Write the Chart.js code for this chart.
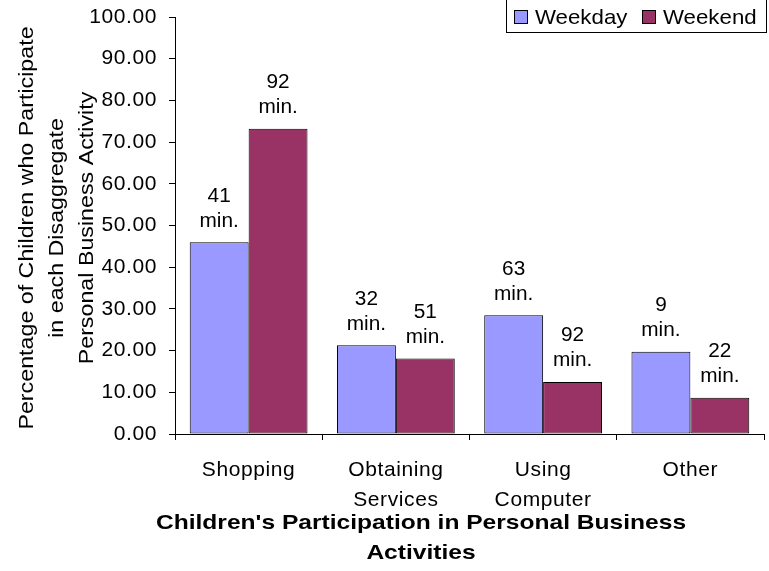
<!DOCTYPE html>
<html>
<head>
<meta charset="utf-8">
<script src="https://cdn.jsdelivr.net/npm/chart.js@4/dist/chart.umd.min.js"></script>
<style>
  html, body { margin: 0; padding: 0; background: #fff; }
  #wrap { width: 769px; height: 571px; position: relative; }
</style>
</head>
<body>
<div id="wrap"><canvas id="chart"></canvas></div>
<script>
const categories = ['Shopping', ['Obtaining', 'Services'], ['Using', 'Computer'], 'Other'];
const weekday = [46.0, 21.3, 28.5, 19.7];
const weekend = [73.2, 18.1, 12.5, 8.7];
const weekdayMinutes = [41, 32, 63, 9];
const weekendMinutes = [92, 51, 92, 22];
const yTitle = ['Percentage of Children who Participate', 'in each Disaggregate', 'Personal Business Activity'];
const xTitle = ["Children's Participation in Personal Business", 'Activities'];

const FONT = '"Liberation Sans", Arial, sans-serif';
const minutes = [weekdayMinutes, weekendMinutes];

// text widened along its own direction
function wideText(ctx, text, x, y, sx, angle) {
  ctx.save();
  ctx.translate(x, y);
  if (angle) ctx.rotate(angle);
  ctx.scale(sx, 1);
  ctx.fillText(text, 0, 0);
  ctx.restore();
}

// slightly wider text for the axis tick labels
const spacing = {
  id: 'spacing',
  beforeLayout(chart) { chart.ctx.letterSpacing = '0.6px'; },
  beforeDraw(chart) { chart.ctx.letterSpacing = '0.6px'; },
  afterDraw(chart) { chart.ctx.letterSpacing = '0px'; }
};

// "NN min." above each bar
const barLabels = {
  id: 'barLabels',
  afterDatasetsDraw(chart) {
    const ctx = chart.ctx;
    ctx.save();
    ctx.letterSpacing = '0px';
    ctx.font = '20px ' + FONT;
    ctx.fillStyle = '#000';
    ctx.textAlign = 'center';
    ctx.textBaseline = 'middle';
    chart.data.datasets.forEach((ds, di) => {
      chart.getDatasetMeta(di).data.forEach((bar, i) => {
        wideText(ctx, String(minutes[di][i]), bar.x, bar.y - 46, 1.04);
        wideText(ctx, 'min.', bar.x, bar.y - 21, 1.04);
      });
    });
    ctx.restore();
  }
};

// axis titles and boxed legend
const decorations = {
  id: 'decorations',
  afterDraw(chart) {
    const ctx = chart.ctx;
    ctx.save();
    ctx.letterSpacing = '0px';
    ctx.fillStyle = '#000';
    ctx.textAlign = 'center';
    ctx.textBaseline = 'middle';

    ctx.font = '21px ' + FONT;
    const cols = [27, 57, 87];
    yTitle.forEach((line, i) => {
      wideText(ctx, line, cols[i], 228, 1.107, -Math.PI / 2);
    });

    ctx.font = 'bold 21px ' + FONT;
    wideText(ctx, xTitle[0], 421, 523, 1.17);
    wideText(ctx, xTitle[1], 421, 553, 1.17);

    // legend
    ctx.lineWidth = 1;
    ctx.strokeStyle = '#000';
    ctx.strokeRect(506.5, -0.5, 260, 33);
    ctx.font = '21px ' + FONT;
    ctx.textAlign = 'left';
    const items = [
      { x: 514, text: 'Weekday', color: chart.data.datasets[0].backgroundColor },
      { x: 642, text: 'Weekend', color: chart.data.datasets[1].backgroundColor }
    ];
    items.forEach(it => {
      ctx.fillStyle = it.color;
      ctx.fillRect(it.x, 10, 14, 14);
      ctx.strokeRect(it.x + 0.5, 10.5, 13, 13);
      ctx.fillStyle = '#000';
      wideText(ctx, it.text, it.x + 21, 18, 1.06);
    });
    ctx.restore();
  }
};

new Chart(document.getElementById('chart'), {
  type: 'bar',
  data: {
    labels: categories,
    datasets: [
      { label: 'Weekday', data: weekday, backgroundColor: '#9999ff', borderColor: '#000', borderWidth: 1, borderSkipped: false },
      { label: 'Weekend', data: weekend, backgroundColor: '#993366', borderColor: '#000', borderWidth: 1, borderSkipped: false }
    ]
  },
  options: {
    responsive: true,
    maintainAspectRatio: false,
    animation: false,
    layout: { padding: { top: 17, right: 5, left: 0, bottom: 0 } },
    datasets: { bar: { categoryPercentage: 0.8, barPercentage: 1.0 } },
    plugins: {
      legend: { display: false },
      tooltip: { enabled: false }
    },
    scales: {
      x: {
        afterFit: (s) => { s.height = 137; s.paddingLeft = 0; s.paddingRight = 0; },
        grid: { drawOnChartArea: false, drawTicks: true, tickLength: 6, color: '#000' },
        border: { display: true, color: '#000', width: 1 },
        ticks: {
          color: '#000',
          padding: 15,
          maxRotation: 0,
          autoSkip: false,
          font: { family: FONT, size: 21, lineHeight: 1.43 }
        }
      },
      y: {
        min: 0,
        max: 100,
        afterFit: (s) => { s.width = 175; s.paddingTop = 0; s.paddingBottom = 0; },
        grid: { drawOnChartArea: false, drawTicks: true, tickLength: 6, color: '#000' },
        border: { display: true, color: '#000', width: 1 },
        ticks: {
          stepSize: 10,
          color: '#000',
          padding: 12,
          font: { family: FONT, size: 21 },
          callback: (v) => v.toFixed(2)
        }
      }
    }
  },
  plugins: [spacing, barLabels, decorations]
});
</script>
</body>
</html>
